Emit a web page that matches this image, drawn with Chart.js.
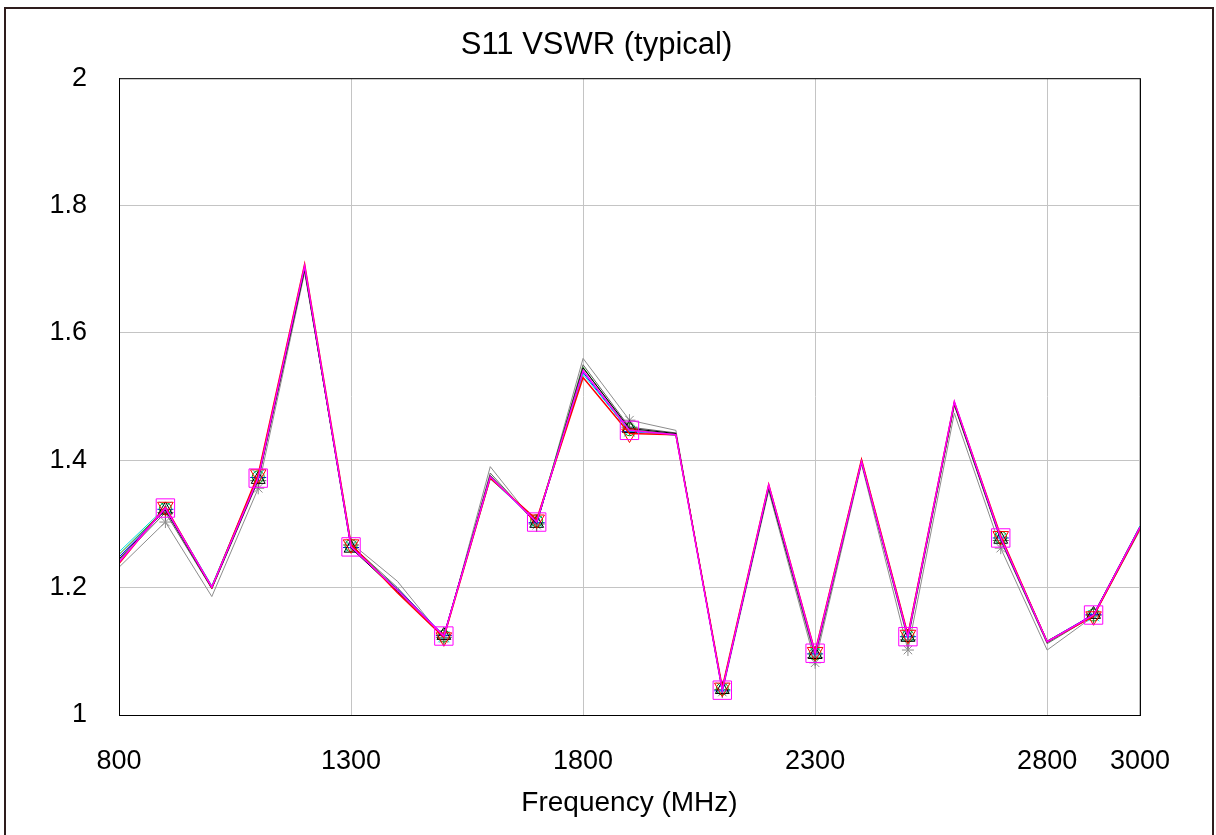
<!DOCTYPE html>
<html>
<head>
<meta charset="utf-8">
<script src="https://cdn.jsdelivr.net/npm/chart.js@4"></script>
<style>
  html, body { margin: 0; padding: 0; background: #fff; overflow: hidden; }
  #frame { position: absolute; left: 4px; top: 7px; width: 1206px; height: 840px; border: 2px solid #2e1d1d; }
  #wrap { position: absolute; left: 0; top: 0; width: 1200px; height: 835px; }
</style>
</head>
<body>
<div id="frame"></div>
<div id="wrap"><canvas id="vswrChart"></canvas></div>
<script>
  // data
  const freqs = [800, 900, 1000, 1100, 1200, 1300, 1400, 1500, 1600, 1700, 1800, 1900,
                 2000, 2100, 2200, 2300, 2400, 2500, 2600, 2700, 2800, 2900, 3000];
  const xTicks = [800, 1300, 1800, 2300, 2800, 3000];
  const yTicks = [1, 1.2, 1.4, 1.6, 1.8, 2];

  const magentaSeries = [1.240, 1.325, 1.201, 1.372, 1.705, 1.264, 1.196, 1.124, 1.374, 1.303, 1.541, 1.447, 1.440, 1.039, 1.361, 1.097, 1.398, 1.123, 1.492, 1.278, 1.115, 1.157, 1.295];
  const redSeries     = [1.238, 1.327, 1.200, 1.378, 1.708, 1.268, 1.192, 1.122, 1.372, 1.307, 1.530, 1.442, 1.440, 1.043, 1.362, 1.099, 1.401, 1.126, 1.491, 1.281, 1.115, 1.155, 1.293];
  const blackSeries   = [1.245, 1.322, 1.199, 1.370, 1.700, 1.262, 1.194, 1.125, 1.376, 1.301, 1.545, 1.450, 1.442, 1.040, 1.357, 1.095, 1.397, 1.122, 1.488, 1.276, 1.114, 1.158, 1.296];
  const greenSeries   = [1.252, 1.324, 1.202, 1.374, 1.702, 1.266, 1.197, 1.124, 1.373, 1.305, 1.546, 1.448, 1.441, 1.041, 1.360, 1.096, 1.399, 1.124, 1.490, 1.279, 1.116, 1.157, 1.294];
  const cyanSeries    = [1.256, 1.326, 1.203, 1.376, 1.704, 1.265, 1.195, 1.123, 1.371, 1.304, 1.535, 1.446, 1.439, 1.042, 1.359, 1.098, 1.400, 1.125, 1.489, 1.277, 1.114, 1.156, 1.297];
  const blueSeries    = [1.248, 1.323, 1.201, 1.373, 1.703, 1.263, 1.198, 1.125, 1.374, 1.302, 1.538, 1.445, 1.441, 1.038, 1.358, 1.096, 1.399, 1.123, 1.491, 1.278, 1.116, 1.158, 1.294];
  const darkGraySeries  = [1.243, 1.318, 1.198, 1.368, 1.698, 1.267, 1.200, 1.122, 1.380, 1.300, 1.550, 1.452, 1.443, 1.040, 1.355, 1.090, 1.396, 1.118, 1.486, 1.274, 1.112, 1.156, 1.292];
  const lightGraySeries = [1.232, 1.303, 1.186, 1.356, 1.695, 1.270, 1.210, 1.120, 1.390, 1.298, 1.560, 1.463, 1.447, 1.036, 1.352, 1.082, 1.394, 1.102, 1.474, 1.262, 1.102, 1.155, 1.290];

  // markers sit on every other sample (900, 1100, ...)
  const markEvery = r => freqs.map((f, i) => (i % 2 ? r : 0));
  const toPoints = vals => vals.map((v, i) => ({ x: freqs[i], y: v }));

  const series = [
    { data: magentaSeries,   color: '#ff00ff', style: 'rect',     r: 13, rot: 0,   w: 1.5 },
    { data: redSeries,       color: '#ff0000', style: 'triangle', r: 9,  rot: 180, w: 1.5 },
    { data: blackSeries,     color: '#000000', style: 'triangle', r: 8,  rot: 0,   w: 1 },
    { data: greenSeries,     color: '#00a000', style: 'circle',   r: 6,  rot: 0,   w: 1 },
    { data: cyanSeries,      color: '#00e0e0', style: 'crossRot', r: 8,  rot: 0,   w: 1 },
    { data: blueSeries,      color: '#0000ff', style: 'line',     r: 8,  rot: 0,   w: 1 },
    { data: darkGraySeries,  color: '#606060', style: 'cross',    r: 8,  rot: 0,   w: 1 },
    { data: lightGraySeries, color: '#8c8c8c', style: 'star',     r: 6,  rot: 0,   w: 1 }
  ];

  const plotFrame = {
    id: 'plotFrame',
    afterDraw(chart) {
      const { ctx, chartArea: a } = chart;
      ctx.save();
      ctx.strokeStyle = '#000';
      ctx.lineWidth = 1;
      ctx.strokeRect(a.left + 0.5, a.top + 0.5, a.right - a.left, a.bottom - a.top);
      ctx.restore();
    }
  };

  const font = 'Liberation Sans, Arial, sans-serif';

  new Chart(document.getElementById('vswrChart'), {
    type: 'line',
    data: {
      datasets: series.map(s => ({
        data: toPoints(s.data),
        borderColor: s.color,
        borderWidth: s.w,
        backgroundColor: 'transparent',
        pointStyle: s.style,
        pointRadius: markEvery(s.r),
        pointRotation: s.rot,
        pointBorderColor: s.color,
        pointBackgroundColor: 'transparent',
        pointBorderWidth: 1,
        tension: 0
      }))
    },
    options: {
      responsive: true,
      maintainAspectRatio: false,
      animation: false,
      events: [],
      layout: { padding: { left: 46, right: 53, top: 0, bottom: 0 } },
      plugins: {
        legend: { display: false },
        tooltip: { enabled: false },
        title: {
          display: true,
          text: 'S11 VSWR (typical)',
          color: '#000',
          font: { family: font, size: 31, weight: 'normal' },
          padding: { top: 27, bottom: 14 }
        }
      },
      scales: {
        x: {
          type: 'linear',
          min: 800,
          max: 3000,
          afterBuildTicks: s => { s.ticks = xTicks.map(v => ({ value: v })); },
          afterFit: s => { s.height = 120; },
          ticks: { color: '#000', padding: 30, maxRotation: 0, autoSkip: false,
                   font: { family: font, size: 27 }, callback: v => String(v) },
          grid: { color: '#c4c4c4', drawTicks: false },
          border: { color: '#000' },
          title: { display: true, text: 'Frequency (MHz)', color: '#000',
                   font: { family: font, size: 28 }, padding: { top: 0, bottom: 15 } }
        },
        y: {
          min: 1,
          max: 2,
          afterBuildTicks: s => { s.ticks = yTicks.map(v => ({ value: v })); },
          afterFit: s => { s.width = 73; },
          ticks: { color: '#000', padding: 32, font: { family: font, size: 27 },
                   callback: v => String(+v.toFixed(1)) },
          grid: { color: '#c4c4c4', drawTicks: false },
          border: { color: '#000' }
        }
      }
    },
    plugins: [plotFrame]
  });
</script>
</body>
</html>
